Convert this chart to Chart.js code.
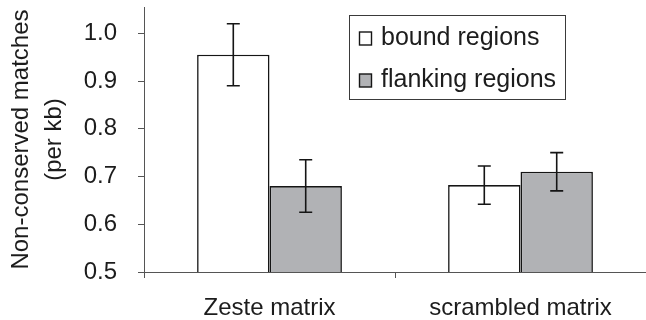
<!DOCTYPE html>
<html>
<head>
<meta charset="utf-8">
<script src="https://cdn.jsdelivr.net/npm/chart.js@4/dist/chart.umd.min.js"></script>
<style>
  html, body { margin: 0; padding: 0; background: #ffffff; }
  canvas { display: block; }
</style>
</head>
<body>
<canvas id="chart" width="646" height="320"></canvas>
<script>
// Categories and series
const categories = ['Zeste matrix', 'scrambled matrix'];
const boundValues = [0.955, 0.682];
const boundErrors = [0.065, 0.040];
const flankingValues = [0.680, 0.710];
const flankingErrors = [0.055, 0.040];
const seriesNames = ['bound regions', 'flanking regions'];
const yTicks = [0.5, 0.6, 0.7, 0.8, 0.9, 1.0];
const yTitle = ['Non-conserved matches', '(per kb)'];

const FONT = '"Liberation Sans", Arial, Helvetica, sans-serif';
const TEXT = '#1c1c1c';
const AXIS = '#555555';
// the plot runs a few pixels past the right edge of the canvas
const RIGHT_OVERHANG = -5;

// Error bars (mean ± error) drawn on top of each bar
const errorBars = {
  id: 'errorBars',
  afterDatasetsDraw(chart) {
    const ctx = chart.ctx;
    const y = chart.scales.y;
    ctx.save();
    ctx.strokeStyle = '#151515';
    ctx.lineWidth = 1.6;
    chart.data.datasets.forEach((ds, di) => {
      const meta = chart.getDatasetMeta(di);
      meta.data.forEach((bar, i) => {
        const v = ds.data[i], e = ds.errors[i];
        const top = y.getPixelForValue(v + e);
        const bot = y.getPixelForValue(v - e);
        const x = bar.x, cap = 6.5;
        ctx.beginPath();
        ctx.moveTo(x, top); ctx.lineTo(x, bot);
        ctx.moveTo(x - cap, top); ctx.lineTo(x + cap, top);
        ctx.moveTo(x - cap, bot); ctx.lineTo(x + cap, bot);
        ctx.stroke();
      });
    });
    ctx.restore();
  }
};

// Boxed legend in the upper right of the plot
const boxedLegend = {
  id: 'boxedLegend',
  afterDraw(chart) {
    const ctx = chart.ctx;
    const box = { x: 349.5, y: 15.5, w: 216, h: 84 };
    ctx.save();
    ctx.fillStyle = '#ffffff';
    ctx.fillRect(box.x, box.y, box.w, box.h);
    ctx.strokeStyle = '#3a3a3a';
    ctx.lineWidth = 1;
    ctx.strokeRect(box.x, box.y, box.w, box.h);
    ctx.font = '25px ' + FONT;
    ctx.textBaseline = 'alphabetic';
    ctx.textAlign = 'left';
    chart.data.datasets.forEach((ds, i) => {
      const baseY = 45 + i * 42;
      ctx.fillStyle = ds.backgroundColor;
      ctx.fillRect(359.5, baseY - 13, 12, 13);
      ctx.strokeStyle = '#151515';
      ctx.lineWidth = 1.4;
      ctx.strokeRect(359.5, baseY - 13, 12, 13);
      ctx.fillStyle = TEXT;
      ctx.fillText(ds.label, 381, baseY);
    });
    ctx.restore();
  }
};

new Chart(document.getElementById('chart'), {
  type: 'bar',
  data: {
    labels: categories,
    datasets: [
      {
        label: seriesNames[0],
        data: boundValues,
        errors: boundErrors,
        backgroundColor: '#ffffff',
        borderColor: '#151515',
        borderWidth: 1.6
      },
      {
        label: seriesNames[1],
        data: flankingValues,
        errors: flankingErrors,
        backgroundColor: '#b1b2b5',
        borderColor: '#151515',
        borderWidth: 1.6
      }
    ]
  },
  options: {
    responsive: false,
    animation: false,
    devicePixelRatio: 1,
    layout: { padding: { left: 0, right: RIGHT_OVERHANG, top: 7, bottom: 0 } },
    datasets: {
      bar: { categoryPercentage: 0.577, barPercentage: 1.0 }
    },
    plugins: {
      legend: { display: false },
      tooltip: { enabled: false }
    },
    scales: {
      x: {
        grid: {
          drawOnChartArea: false,
          drawTicks: true,
          tickLength: 6,
          color: AXIS,
          lineWidth: 1
        },
        border: { display: true, color: AXIS, width: 1 },
        ticks: {
          color: TEXT,
          padding: 16,
          font: { family: FONT, size: 24 }
        },
        afterFit(scale) {
          scale.height = 48;
          scale.paddingLeft = 0;
          scale.paddingRight = RIGHT_OVERHANG;
        }
      },
      y: {
        min: 0.5,
        max: 1.055,
        afterBuildTicks(scale) {
          scale.ticks = yTicks.map(v => ({ value: v }));
        },
        grid: {
          drawOnChartArea: false,
          drawTicks: true,
          tickLength: 6,
          color: AXIS,
          lineWidth: 1
        },
        border: { display: true, color: AXIS, width: 1 },
        ticks: {
          color: TEXT,
          padding: 21,
          font: { family: FONT, size: 24 },
          callback: (v) => Number(v).toFixed(1)
        },
        title: {
          display: true,
          text: yTitle,
          color: TEXT,
          padding: { top: 5, bottom: 0 },
          font: { family: FONT, size: 24, lineHeight: 1.375 }
        },
        afterFit(scale) {
          scale.width = 144;
          scale.paddingTop = 0;
          scale.paddingBottom = 0;
          scale.paddingRight = RIGHT_OVERHANG;
        }
      }
    }
  },
  plugins: [errorBars, boxedLegend]
});
</script>
</body>
</html>
